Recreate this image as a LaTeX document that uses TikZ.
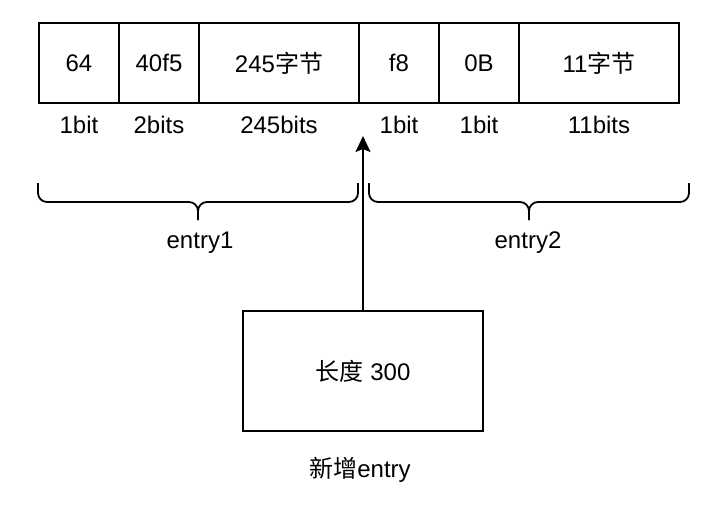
\documentclass[tikz,border=0pt]{standalone}
\usepackage{fontspec}
\setmainfont{Liberation Sans}
\newfontfamily\cjk{Noto Sans CJK SC}
\usetikzlibrary{arrows.meta}

\tikzset{
  cell/.style={draw,line width=1.8pt,minimum height=80pt,inner sep=0pt,
    font=\fontsize{24}{28}\selectfont},
  bits/.style={font=\fontsize{24}{28}\selectfont},
  brace/.style={line width=1.8pt,rounded corners=9pt},
}

\begin{document}
\begin{tikzpicture}[x=1pt,y=-1pt]
  \useasboundingbox (0,0) rectangle (718,504);

  % the cells of the list
  \foreach \name/\cx/\w/\txt/\size in {a/79/80/64/1bit,
      b/159/80/40f5/2bits,
      c/279/160/245{\cjk 字节}/245bits,
      d/399/80/f8/1bit,
      e/479/80/0B/1bit,
      f/599/160/11{\cjk 字节}/11bits} {
    \node[cell,minimum width=\w pt] (\name) at (\cx,63) {\txt};
    \node[bits] (\name-bits) at (\cx,125) {\size};
  }

  % braces
  \draw[brace] (38,183) -- (38,202) -- (198,202) -- (198,220);
  \draw[brace] (358,183) -- (358,202) -- (198,202) -- (198,220);
  \node[bits] (entry1) at (200,243) {entry1};

  \draw[brace] (369,183) -- (369,202) -- (529,202) -- (529,220);
  \draw[brace] (689,183) -- (689,202) -- (529,202) -- (529,220);
  \node[bits] (entry2) at (528,243) {entry2};

  % new entry
  \node[cell,minimum width=240pt,minimum height=120pt] (new) at (363,371) {{\cjk 长度} 300};
  \node[bits] (newlabel) at (360,470) {{\cjk 新增}entry};

  \coordinate (tip) at (363,136);
  \draw[line width=1.8pt,-{Stealth[length=16pt,width=15pt,inset=3pt]}] (new.north) -- (tip);
\end{tikzpicture}
\end{document}
